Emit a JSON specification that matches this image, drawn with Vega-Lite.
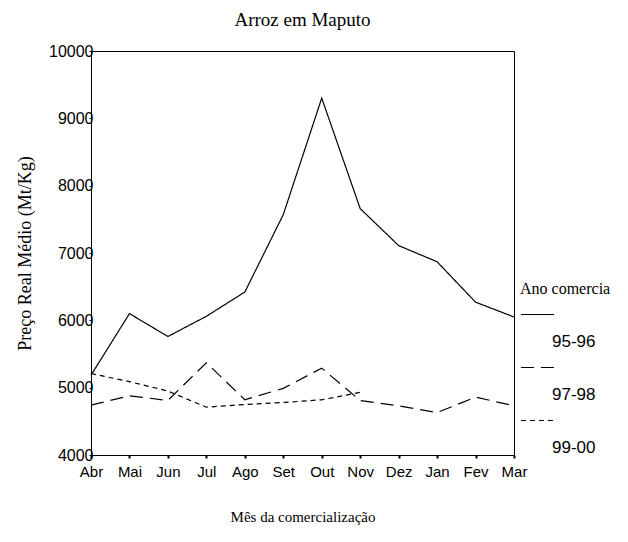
{
  "$schema": "https://vega.github.io/schema/vega-lite/v6.json",
  "width": 423,
  "height": 404,
  "autosize": {"type": "none"},
  "padding": {"left": 91, "top": 51, "right": 114, "bottom": 87},
  "title": {"text": "Arroz em Maputo", "font": "Liberation Serif", "fontSize": 19, "fontWeight": "normal", "color": "black", "anchor": "middle", "offset": 13},
  "data": {"values": [
    {"mes": "Abr", "ano": "95-96", "preco": 5185},
    {"mes": "Mai", "ano": "95-96", "preco": 6100},
    {"mes": "Jun", "ano": "95-96", "preco": 5760},
    {"mes": "Jul", "ano": "95-96", "preco": 6060},
    {"mes": "Ago", "ano": "95-96", "preco": 6420},
    {"mes": "Set", "ano": "95-96", "preco": 7570},
    {"mes": "Out", "ano": "95-96", "preco": 9300},
    {"mes": "Nov", "ano": "95-96", "preco": 7660},
    {"mes": "Dez", "ano": "95-96", "preco": 7110},
    {"mes": "Jan", "ano": "95-96", "preco": 6870},
    {"mes": "Fev", "ano": "95-96", "preco": 6270},
    {"mes": "Mar", "ano": "95-96", "preco": 6050},
    {"mes": "Abr", "ano": "97-98", "preco": 4740},
    {"mes": "Mai", "ano": "97-98", "preco": 4880},
    {"mes": "Jun", "ano": "97-98", "preco": 4810},
    {"mes": "Jul", "ano": "97-98", "preco": 5370},
    {"mes": "Ago", "ano": "97-98", "preco": 4820},
    {"mes": "Set", "ano": "97-98", "preco": 4990},
    {"mes": "Out", "ano": "97-98", "preco": 5290},
    {"mes": "Nov", "ano": "97-98", "preco": 4810},
    {"mes": "Dez", "ano": "97-98", "preco": 4730},
    {"mes": "Jan", "ano": "97-98", "preco": 4630},
    {"mes": "Fev", "ano": "97-98", "preco": 4860},
    {"mes": "Mar", "ano": "97-98", "preco": 4730},
    {"mes": "Abr", "ano": "99-00", "preco": 5210},
    {"mes": "Mai", "ano": "99-00", "preco": 5090},
    {"mes": "Jun", "ano": "99-00", "preco": 4950},
    {"mes": "Jul", "ano": "99-00", "preco": 4710},
    {"mes": "Ago", "ano": "99-00", "preco": 4750},
    {"mes": "Set", "ano": "99-00", "preco": 4780},
    {"mes": "Out", "ano": "99-00", "preco": 4820},
    {"mes": "Nov", "ano": "99-00", "preco": 4930}
  ]},
  "mark": {"type": "line", "color": "black", "strokeWidth": 1.2},
  "encoding": {
    "x": {
      "field": "mes", "type": "ordinal",
      "sort": ["Abr", "Mai", "Jun", "Jul", "Ago", "Set", "Out", "Nov", "Dez", "Jan", "Fev", "Mar"],
      "scale": {"type": "point", "padding": 0},
      "axis": {
        "title": "Mês da comercialização", "titleFont": "Liberation Serif", "titleFontSize": 15, "titleFontWeight": "normal", "titleColor": "black", "titlePadding": 30,
        "labelAngle": 0, "labelFont": "Liberation Sans", "labelFontSize": 15, "labelColor": "black", "labelPadding": 6,
        "tickSize": 3, "tickColor": "black", "tickWidth": 2, "domainColor": "black", "grid": false
      }
    },
    "y": {
      "field": "preco", "type": "quantitative",
      "scale": {"domain": [4000, 10000], "nice": false},
      "axis": {
        "title": "Preço Real Médio (Mt/Kg)", "titleFont": "Liberation Serif", "titleFontSize": 18, "titleFontWeight": "normal", "titleColor": "black", "titlePadding": 14,
        "values": [4000, 5000, 6000, 7000, 8000, 9000, 10000], "format": "d",
        "labelFont": "Liberation Sans", "labelFontSize": 16, "labelColor": "black", "labelPadding": -4,
        "tickSize": 2, "tickColor": "black", "domainColor": "black", "grid": false
      }
    },
    "strokeDash": {
      "field": "ano", "type": "nominal",
      "scale": {"domain": ["95-96", "97-98", "99-00"], "range": [[1, 0], [13, 7], [5, 4]]},
      "legend": {
        "title": "Ano comercia", "titleFont": "Liberation Serif", "titleFontSize": 16, "titleFontWeight": "normal", "titleColor": "black",
        "orient": "none", "legendX": 429, "legendY": 230,
        "symbolType": "stroke", "symbolSize": 1100, "symbolStrokeColor": "black", "symbolStrokeWidth": 1.2,
        "labelExpr": "['', datum.label]",
        "labelFont": "Liberation Sans", "labelFontSize": 17, "labelColor": "black", "labelBaseline": "top", "labelOffset": -3,
        "rowPadding": -1, "titlePadding": 0
      }
    }
  },
  "config": {"view": {"stroke": "black", "strokeWidth": 1}}
}
